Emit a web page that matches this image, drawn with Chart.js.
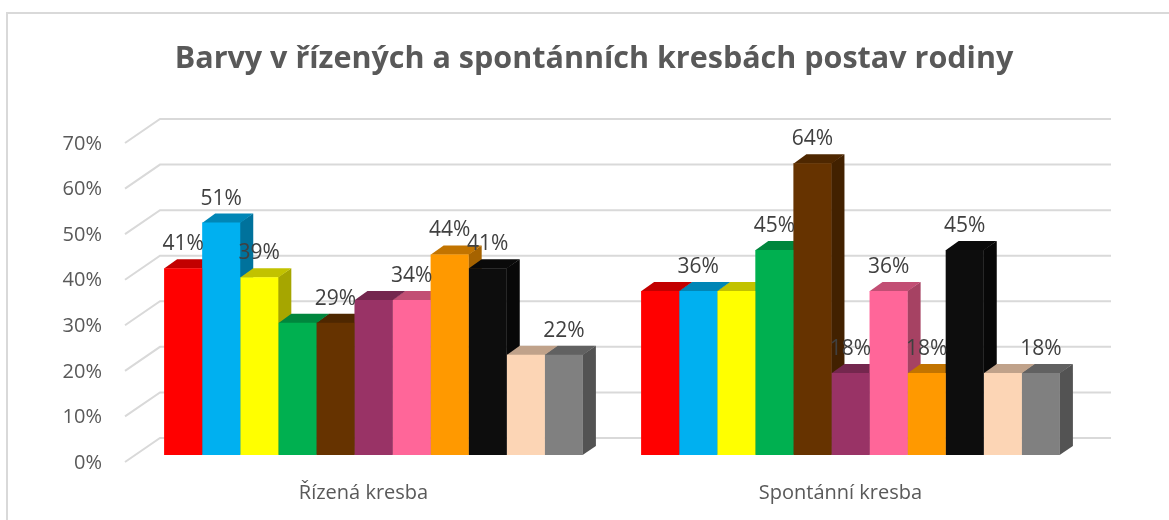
<!DOCTYPE html>
<html>
<head>
<meta charset="utf-8">
<script src="https://cdn.jsdelivr.net/npm/chart.js@4.4.1/dist/chart.umd.min.js"></script>
<style>
  html, body { margin: 0; padding: 0; background: #ffffff; }
  #wrap { position: relative; width: 1169px; height: 520px; }
</style>
</head>
<body>
<div id="wrap"><canvas id="c"></canvas></div>
<script>
// ---- data ----
const categories = ['Řízená kresba', 'Spontánní kresba'];
const seriesNames = ['červená', 'modrá', 'žlutá', 'zelená', 'hnědá', 'fialová', 'růžová', 'oranžová', 'černá', 'tělová', 'šedá'];
const red    = [41, 36];
const blue   = [51, 36];
const yellow = [39, 36];
const green  = [29, 45];
const brown  = [29, 64];
const purple = [34, 18];
const pink   = [34, 36];
const orange = [44, 18];
const black  = [41, 45];
const peach  = [22, 18];
const gray   = [22, 18];
const seriesValues = [red, blue, yellow, green, brown, purple, pink, orange, black, peach, gray];
// which data labels are shown (per series, per category)
const labelShown = [
  [true, false], [true, true], [true, false], [false, true], [true, true], [false, true],
  [true, true], [true, true], [true, true], [false, false], [true, true]
];
const yTicks = [0, 10, 20, 30, 40, 50, 60, 70];
const yTickLabels = ['0%', '10%', '20%', '30%', '40%', '50%', '60%', '70%'];
const chartTitle = 'Barvy v řízených a spontánních kresbách postav rodiny';

// ---- style ----
const seriesColors = ['#FF0000', '#00B0F0', '#FFFF00', '#00B050', '#663300', '#993366',
                      '#FF6699', '#FF9900', '#0D0D0D', '#FCD5B5', '#808080'];
const FONT = '"Open Sans", "Noto Sans", sans-serif';
const BAR_DX = 13, BAR_DY = 9;        // bar depth
const FRONT_DX = 10, FRONT_DY = 7;    // floor front edge relative to bar plane
const BACK_DX = 25, BACK_DY = 17;     // back wall relative to bar plane

function shade(hex, f) {
  const n = parseInt(hex.slice(1), 16);
  const r = Math.round(((n >> 16) & 255) * f);
  const g = Math.round(((n >> 8) & 255) * f);
  const b = Math.round((n & 255) * f);
  return `rgb(${r},${g},${b})`;
}

const frame3d = {
  id: 'frame3d',
  beforeDraw(chart) {
    const ctx = chart.ctx;
    ctx.save();
    ctx.strokeStyle = '#D9D9D9';
    ctx.lineWidth = 2;
    ctx.strokeRect(7, 13, chart.width + 20, chart.height + 20);
    ctx.restore();
  },
  beforeDatasetsDraw(chart) {
    const ctx = chart.ctx;
    const ys = chart.scales.y;
    const area = chart.chartArea;
    ctx.save();
    ctx.strokeStyle = '#D9D9D9';
    ctx.lineWidth = 2;
    ys.ticks.forEach(t => {
      const yb = ys.getPixelForValue(t.value);
      ctx.beginPath();
      ctx.moveTo(area.left - FRONT_DX, yb + FRONT_DY);
      ctx.lineTo(area.left + BACK_DX, yb - BACK_DY);
      ctx.lineTo(area.right + BACK_DX - 3, yb - BACK_DY);
      ctx.stroke();
    });
    // side and top faces, drawn left to right
    for (let i = 0; i < categories.length; i++) {
      for (let d = 0; d < chart.data.datasets.length; d++) {
        const el = chart.getDatasetMeta(d).data[i];
        const p = el.getProps(['x', 'y', 'base', 'width'], true);
        const l = p.x - p.width / 2, r = p.x + p.width / 2;
        const col = seriesColors[d];
        ctx.fillStyle = shade(col, 0.65);
        ctx.beginPath();
        ctx.moveTo(r - 0.3, p.y);
        ctx.lineTo(r + BAR_DX, p.y - BAR_DY);
        ctx.lineTo(r + BAR_DX, p.base - BAR_DY);
        ctx.lineTo(r - 0.3, p.base);
        ctx.closePath();
        ctx.fill();
        ctx.fillStyle = shade(col, 0.76);
        ctx.beginPath();
        ctx.moveTo(l, p.y + 0.3);
        ctx.lineTo(r, p.y + 0.3);
        ctx.lineTo(r + BAR_DX, p.y - BAR_DY);
        ctx.lineTo(l + BAR_DX, p.y - BAR_DY);
        ctx.closePath();
        ctx.fill();
      }
    }
    ctx.restore();
  },
  afterDatasetsDraw(chart) {
    const ctx = chart.ctx;
    ctx.save();
    ctx.font = '21px ' + FONT;
    ctx.fillStyle = '#404040';
    ctx.textAlign = 'center';
    ctx.textBaseline = 'middle';
    chart.data.datasets.forEach((ds, d) => {
      chart.getDatasetMeta(d).data.forEach((el, i) => {
        if (!labelShown[d][i]) return;
        const p = el.getProps(['x', 'y'], true);
        ctx.fillText(ds.data[i] + '%', p.x, p.y - 24);
      });
    });
    ctx.restore();
  },
  afterDraw(chart) {
    const ctx = chart.ctx;
    ctx.save();
    ctx.font = 'bold 30.5px ' + FONT;
    ctx.fillStyle = '#595959';
    ctx.textAlign = 'center';
    ctx.textBaseline = 'alphabetic';
    ctx.fillText(chartTitle, 594, 68);
    ctx.restore();
  }
};

new Chart(document.getElementById('c'), {
  type: 'bar',
  data: {
    labels: categories,
    datasets: seriesValues.map((vals, d) => ({
      label: seriesNames[d],
      data: vals,
      backgroundColor: seriesColors[d],
      borderWidth: 0,
      barPercentage: 1.0,
      categoryPercentage: 0.878
    }))
  },
  options: {
    responsive: true,
    maintainAspectRatio: false,
    animation: false,
    layout: { padding: { left: 15, right: 80, top: 136, bottom: 5 } },
    plugins: {
      legend: { display: false },
      title: { display: false },
      tooltip: { enabled: false }
    },
    scales: {
      x: {
        grid: { display: false, drawTicks: false },
        border: { display: false },
        ticks: {
          font: { family: FONT, size: 20 },
          color: '#595959',
          labelOffset: -10,
          padding: 26
        },
        afterFit(scale) { scale.height = 60; }
      },
      y: {
        min: 0,
        max: 70,
        grid: { display: false, drawTicks: false },
        border: { display: false },
        afterBuildTicks(scale) { scale.ticks = yTicks.map(v => ({ value: v })); },
        ticks: {
          font: { family: FONT, size: 20 },
          color: '#595959',
          padding: 33,
          labelOffset: 8,
          callback: (v, idx) => yTickLabels[idx]
        },
        afterFit(scale) { scale.width = 120; }
      }
    }
  },
  plugins: [frame3d]
});
</script>
</body>
</html>
